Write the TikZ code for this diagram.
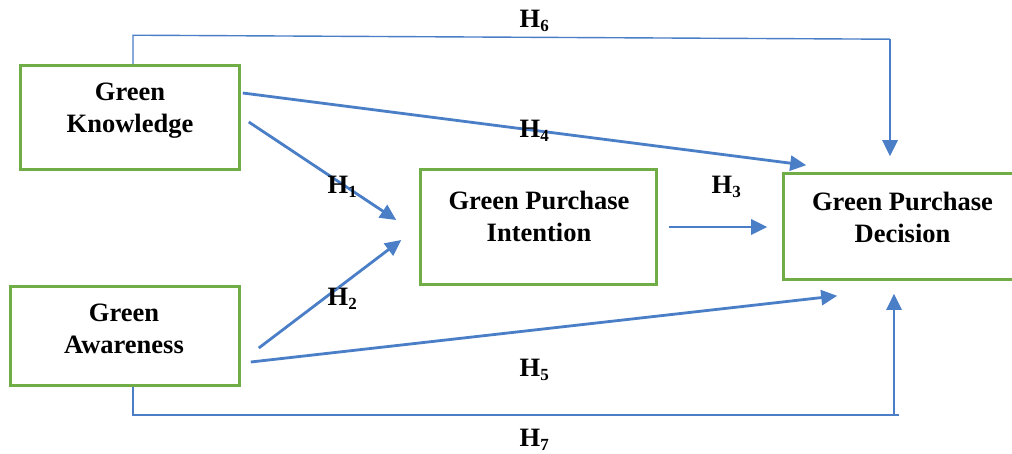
\documentclass[tikz,border=0pt]{standalone}
\usepackage{fontspec}
\setmainfont{Liberation Serif}
\usetikzlibrary{arrows.meta,calc}
\definecolor{lineblue}{HTML}{4A7EC7}
\definecolor{boxgreen}{HTML}{70AD47}
\newcommand\hsub[1]{H\raisebox{-4pt}{\fontsize{17}{17}\selectfont #1}}
\begin{document}
\begin{tikzpicture}[x=1pt,y=-1pt,
  box/.style={draw=boxgreen,line width=2.6pt,fill=white,inner sep=0pt},
  txt/.style={font=\fontsize{26.5}{31.5}\selectfont\bfseries,align=center,inner sep=0pt,anchor=base},
  hlab/.style={font=\fontsize{26.5}{31.5}\selectfont\bfseries,inner sep=0pt,anchor=base west},
  arr/.style={draw=lineblue,line width=2.8pt,-{Triangle[length=16pt,width=15pt]}},
  thinline/.style={draw=lineblue,line width=1.4pt}]
\useasboundingbox (0,0) rectangle (1012,453);
\clip (0,0) rectangle (1012,453);
\fill[white] (0,0) rectangle (1012,453);
% boxes
\node[box,minimum width=219pt,minimum height=104pt] (gk) at (130,117.5) {};
\node[box,minimum width=229pt,minimum height=99pt] (ga) at (125,336) {};
\node[box,minimum width=236pt,minimum height=115pt] (gpi) at (538.5,227) {};
\node[box,minimum width=238pt,minimum height=106pt] (gpd) at (902.5,226.5) {};
% texts (base = baseline of last line)
\node[txt] (gkt) at (130,132) {Green\\Knowledge};
\node[txt] (gat) at (124,353) {Green\\Awareness};
\node[txt] (gpit) at (539,241) {Green Purchase\\Intention};
\node[txt] (gpdt) at (902.5,242) {Green Purchase\\Decision};
% connectors
\draw[arr] ($(gk.east)+(2,-24.5)$) -- ($(gpd.north west)+(24,-7)$);
\draw[arr] ($(gk.east)+(8,4.5)$) -- ($(gpi.west)+(-23,-7)$);
\draw[arr] ($(ga.east)+(18,12)$) -- ($(gpi.west)+(-18,13)$);
\draw[arr] ($(ga.east)+(10,26)$) -- ($(gpd.south west)+(55,15)$);
\draw[arr] ($(gpi.east)+(11,0)$) -- ($(gpd.west)+(-15,0.5)$);
% H6 path
\coordinate (h6a) at ($(gk.north)+(3,-29)$);
\coordinate (h6b) at ($(gpd.north)+(-12.5,-133)$);
\draw[thinline] ($(gk.north)+(3,0)$) -- (h6a) -- (h6b);
\draw[arr] (h6b) -- ($(gpd.north)+(-12.5,-16)$);
% H7 path
\coordinate (h7a) at ($(ga.south)+(8,28)$);
\coordinate (h7b) at ($(gpd.south)+(-3.5,134)$);
\coordinate (h7c) at ($(gpd.south)+(-8.5,134)$);
\draw[thinline] ($(ga.south)+(8,0)$) -- (h7a) -- (h7b);
\draw[arr] (h7c) -- ($(gpd.south)+(-8.5,13)$);
% labels
\node[hlab] (l6) at (519.5,27) {\hsub{6}};
\node[hlab] (l4) at (519.5,137) {\hsub{4}};
\node[hlab] (l3) at (711.5,193) {\hsub{3}};
\node[hlab] (l5) at (519.5,376) {\hsub{5}};
\node[hlab] (l7) at (519.5,446) {\hsub{7}};
\node[hlab] (l1) at (327.5,193) {\hsub{1}};
\node[hlab] (l2) at (327.5,305) {\hsub{2}};
\end{tikzpicture}
\end{document}
